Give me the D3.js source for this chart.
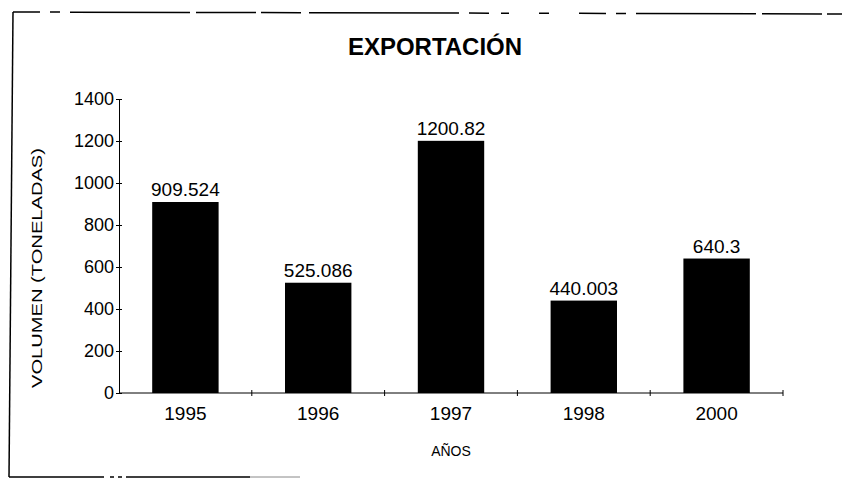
<!DOCTYPE html>
<html>
<head>
<meta charset="utf-8">
<script src="https://cdn.jsdelivr.net/npm/d3@7"></script>
<style>
  body { margin: 0; background: #fff; }
  text { font-family: "Liberation Sans", Arial, sans-serif; fill: #000; }
</style>
</head>
<body>
<div id="chart"></div>
<script>
// data
var years = ["1995", "1996", "1997", "1998", "2000"];
var volumes = [909.524, 525.086, 1200.82, 440.003, 640.3];
var valueLabels = ["909.524", "525.086", "1200.82", "440.003", "640.3"];
var yTicks = [0, 200, 400, 600, 800, 1000, 1200, 1400];

var width = 851,
    height = 479;

var svg = d3.select("#chart").append("svg")
    .attr("width", width)
    .attr("height", height);

// frame of the scanned box (left + bottom solid, top dashed, no right side)
svg.append("line")
    .attr("x1", 13).attr("y1", 12).attr("x2", 9).attr("y2", 477)
    .attr("stroke", "#000").attr("stroke-width", 1.5);
svg.append("line")
    .attr("x1", 9).attr("y1", 477).attr("x2", 250).attr("y2", 477)
    .attr("stroke", "#000").attr("stroke-width", 1.5)
    .attr("stroke-dasharray", "95 6 4 4 4 4 140");
svg.append("line")
    .attr("x1", 250).attr("y1", 477).attr("x2", 300).attr("y2", 477)
    .attr("stroke", "#888").attr("stroke-width", 1);
svg.append("line")
    .attr("x1", 13).attr("y1", 12).attr("x2", 842).attr("y2", 14)
    .attr("stroke", "#000").attr("stroke-width", 1.5)
    .attr("stroke-dasharray", "27 10 10 10 120 6 60 5 40 8 150 10 20 12 8 30 10 30");

var xScale = d3.scaleBand()
    .domain(years)
    .range([119, 783])
    .paddingInner(0.5)
    .paddingOuter(0.25);

var yScale = d3.scaleLinear()
    .domain([0, 1400])
    .range([393, 99]);

// title
svg.append("text")
    .attr("x", 435)
    .attr("y", 55)
    .attr("text-anchor", "middle")
    .style("font-size", "24px")
    .style("font-weight", "bold")
    .text("EXPORTACIÓN");

// bars
svg.selectAll("rect.bar")
    .data(volumes)
    .enter().append("rect")
    .attr("class", "bar")
    .attr("x", (d, i) => xScale(years[i]))
    .attr("y", d => yScale(d))
    .attr("width", xScale.bandwidth())
    .attr("height", d => yScale(0) - yScale(d))
    .attr("fill", "#000");

svg.selectAll("text.val")
    .data(volumes)
    .enter().append("text")
    .attr("class", "val")
    .attr("x", (d, i) => xScale(years[i]) + xScale.bandwidth() / 2)
    .attr("y", d => yScale(d) - 6)
    .attr("text-anchor", "middle")
    .style("font-size", "19px")
    .text((d, i) => valueLabels[i]);

// y axis
var yAxis = svg.append("g")
    .attr("transform", "translate(119,0)")
    .call(d3.axisLeft(yScale).tickValues(yTicks).tickFormat(d3.format("d")).tickSize(4).tickSizeOuter(0));
yAxis.select(".domain").attr("stroke", "#000");
yAxis.selectAll(".tick line").attr("x2", 3).attr("x1", -3);
yAxis.selectAll(".tick text")
    .attr("x", -5)
    .style("font-size", "18px")
    .style("font-family", "Liberation Sans, Arial, sans-serif");

// x axis, ticks at category borders
var xAxis = svg.append("g")
    .attr("transform", "translate(0,393)");
xAxis.append("line")
    .attr("x1", 119).attr("x2", 783)
    .attr("stroke", "#000");
var borders = years.map(y => xScale(y) + xScale.bandwidth() + xScale.step() * 0.25);
xAxis.selectAll("line.tk")
    .data(borders)
    .enter().append("line")
    .attr("class", "tk")
    .attr("x1", d => d).attr("x2", d => d)
    .attr("y1", -3).attr("y2", 3)
    .attr("stroke", "#000");
xAxis.selectAll("text.cat")
    .data(years)
    .enter().append("text")
    .attr("class", "cat")
    .attr("x", d => xScale(d) + xScale.bandwidth() / 2)
    .attr("y", 27)
    .attr("text-anchor", "middle")
    .style("font-size", "19px")
    .text(d => d);

// axis titles
svg.append("text")
    .attr("x", 451)
    .attr("y", 456)
    .attr("text-anchor", "middle")
    .style("font-size", "14px")
    .text("AÑOS");

svg.append("text")
    .attr("transform", "translate(42,268) rotate(-90)")
    .attr("text-anchor", "middle")
    .style("font-size", "14px")
    .attr("textLength", 240)
    .attr("lengthAdjust", "spacingAndGlyphs")
    .text("VOLUMEN (TONELADAS)");
</script>
</body>
</html>
